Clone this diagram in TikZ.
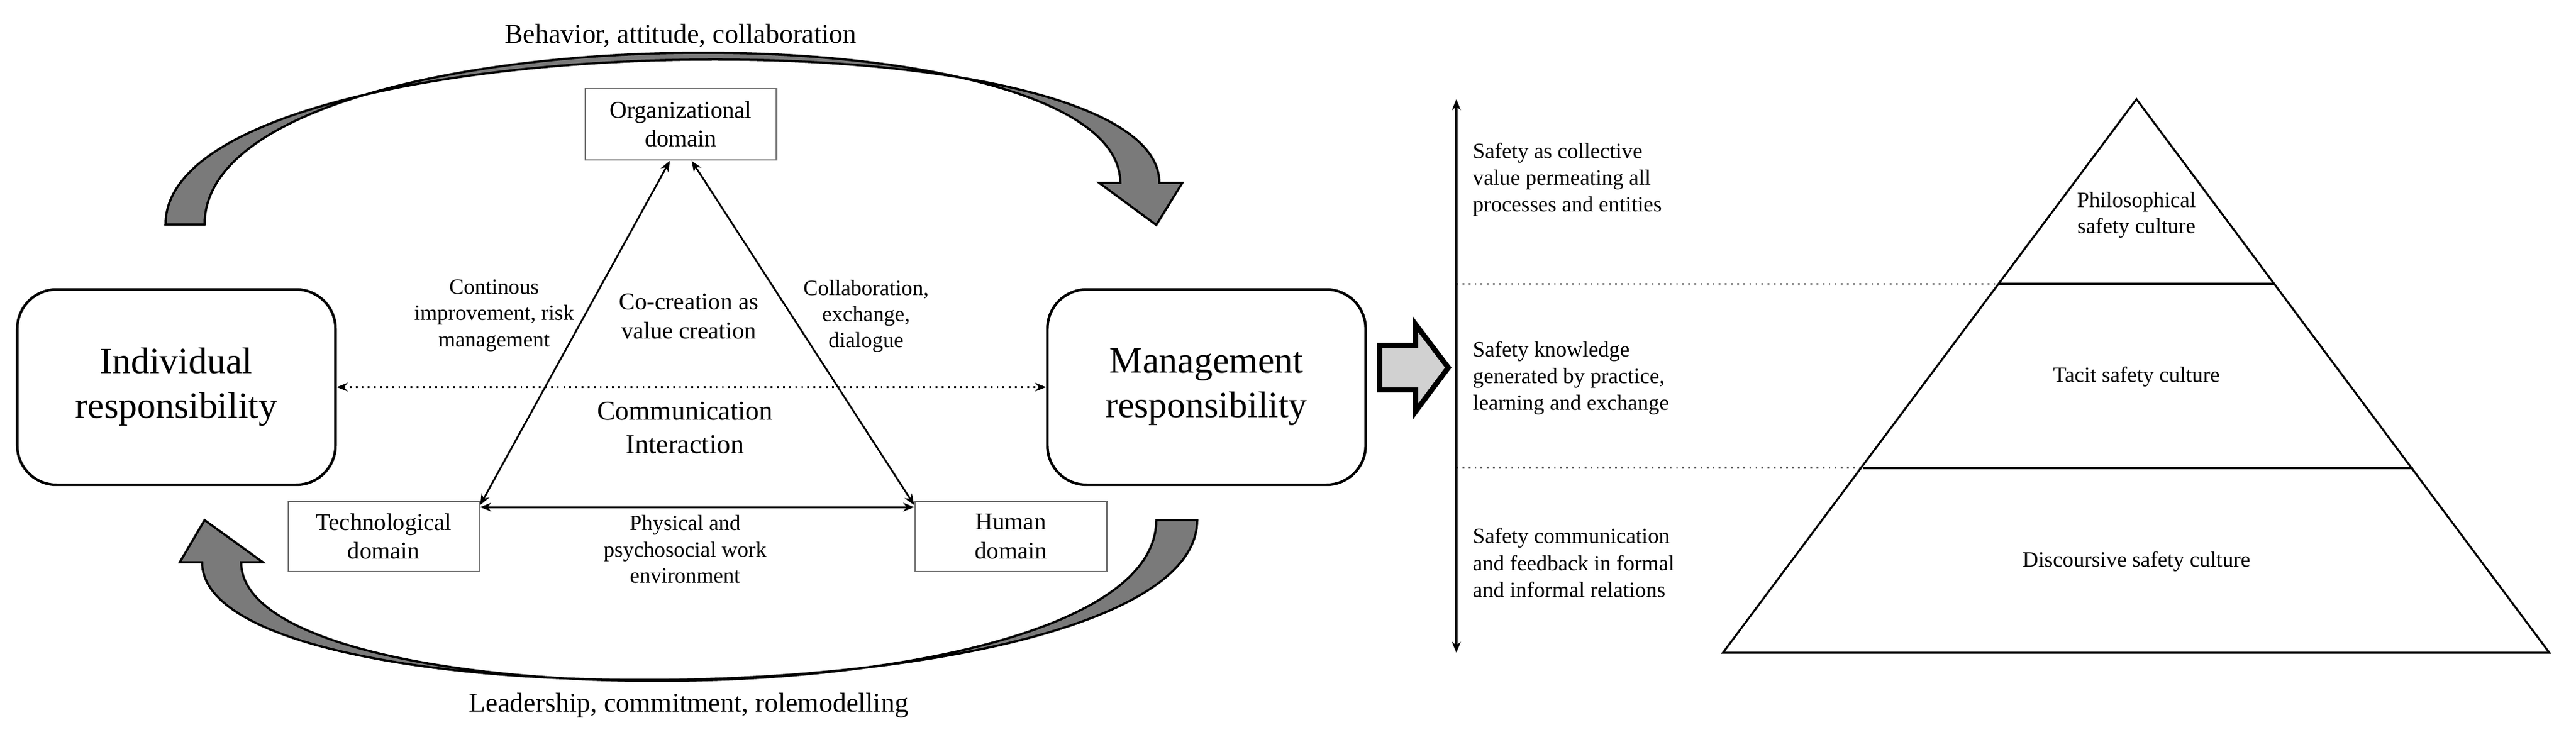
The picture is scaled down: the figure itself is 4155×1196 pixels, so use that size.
\documentclass[tikz,border=0pt]{standalone}
\usepackage{fontspec}
\setmainfont{Liberation Serif}
\usetikzlibrary{arrows.meta}
\begin{document}
\begin{tikzpicture}[x=0.01cm,y=-0.01cm,
  big/.style={draw,line width=1.2pt,rounded corners=18pt,font=\fontsize{17}{20.5}\selectfont,align=center,inner sep=0pt,minimum width=5.13cm,minimum height=3.15cm,text width=4.8cm},
  dom/.style={draw=black!55,line width=0.8pt,font=\fontsize{11}{13.2}\selectfont,align=center,inner sep=0pt},
  lab/.style={font=\fontsize{10}{12}\selectfont,align=center},
  lbl/.style={font=\fontsize{10}{12.3}\selectfont,align=left,anchor=west,inner sep=0pt},
  con/.style={line width=0.8pt,{Stealth[length=5pt,width=4pt]}-{Stealth[length=5pt,width=4pt]}},
  crv/.style={draw=black,line width=1pt,fill=black!52,line join=miter}]
\useasboundingbox (0,0) rectangle (4155,1196);
% boxes
\node[big] (ind) at (284.5,624.5) {Individual\\responsibility};
\node[big] (man) at (1946,624.5) {Management\\responsibility};
\node[dom,minimum width=3.08cm,minimum height=1.15cm] (org) at (1098,200.5) {Organizational\\domain};
\node[dom,minimum width=3.08cm,minimum height=1.13cm] (tec) at (619,865.5) {Technological\\domain};
\node[dom,minimum width=3.09cm,minimum height=1.13cm] (hum) at (1630.5,865.5) {Human\\domain};
% connectors
\draw[con] ([xshift=-5]org.south) -- ([yshift=-2]tec.north east);
\draw[con] ([xshift=5]org.south) -- ([yshift=-2]hum.north west);
\draw[con] ([yshift=-3]tec.north east) -- ([yshift=-3]hum.north west);
\draw[line width=0.8pt,dotted,{Stealth[length=5pt,width=4pt]}-{Stealth[length=5pt,width=4pt]}] (ind.east) -- (man.west);
% labels
\node[lab] (l1) at (797,509) {Continous\\improvement, risk\\management};
\node[font=\fontsize{11}{13.4}\selectfont,align=center] (l2) at (1111,510) {Co-creation as\\value creation};
\node[lab] (l3) at (1397,510) {Collaboration,\\exchange,\\dialogue};
\node[font=\fontsize{12.5}{15.2}\selectfont,align=center] (l4) at (1105,690) {Communication\\Interaction};
\node[lab] (l5) at (1105,886) {Physical and\\psychosocial work\\environment};
\node[font=\fontsize{12.5}{15}\selectfont] (t1) at (1098,58) {Behavior, attitude, collaboration};
\node[font=\fontsize{12.5}{15}\selectfont] (t2) at (1111,1138) {Leadership, commitment, rolemodelling};
% curved arrows
\path[crv] (267,362) .. controls (267,30) and (1870,10) .. (1870,295) -- (1907,295) -- (1865,363) -- (1773,295) -- (1807,295)
  .. controls (1807,0) and (330,10) .. (330,362) -- cycle;
\path[crv] (1931,839) .. controls (1931,1160) and (326,1180) .. (326,907) -- (290,907) -- (330,839) -- (424,907) -- (389,907)
  .. controls (389,1175) and (1865,1170) .. (1865,839) -- cycle;
% block arrow
\path[draw,line width=2.4pt,fill=black!18,line join=miter] (2225,557) -- (2283,557) -- (2283,523) -- (2336,593) -- (2283,664) -- (2283,629) -- (2225,629) -- cycle;
% axis
\coordinate (at) at (2349,160);
\coordinate (ab) at (2349,1053);
\draw[line width=0.9pt,{Stealth[length=5pt,width=4pt]}-{Stealth[length=5pt,width=4pt]}] (at) -- (ab);
% pyramid
\coordinate (A) at (3446,160);
\coordinate (B) at (2779,1053);
\coordinate (C) at (4112,1053);
\draw[line width=0.9pt] (A) -- (B) -- (C) -- cycle;
\coordinate (p1l) at (3225,458); \coordinate (p1r) at (3669,458);
\coordinate (p2l) at (3005,755); \coordinate (p2r) at (3892,755);
\draw[line width=0.9pt] (p1l) -- (p1r);
\draw[line width=0.9pt] (p2l) -- (p2r);
\coordinate (d1) at (2349,458); \coordinate (d2) at (2349,755);
\draw[line width=0.8pt,dotted] (d1) -- (p1l);
\draw[line width=0.8pt,dotted] (d2) -- (p2l);
\node[lbl] (s1) at (2375,290) {Safety as collective\\value permeating all\\processes and entities};
\node[lbl] (s2) at (2375,610) {Safety knowledge\\generated by practice,\\learning and exchange};
\node[lbl] (s3) at (2375,908) {Safety communication\\and feedback in formal\\and informal relations};
\node[lab] (c1) at (3446,347) {Philosophical\\safety culture};
\node[lab] (c2) at (3446,608) {Tacit safety culture};
\node[lab] (c3) at (3446,906) {Discoursive safety culture};
\end{tikzpicture}
\end{document}
